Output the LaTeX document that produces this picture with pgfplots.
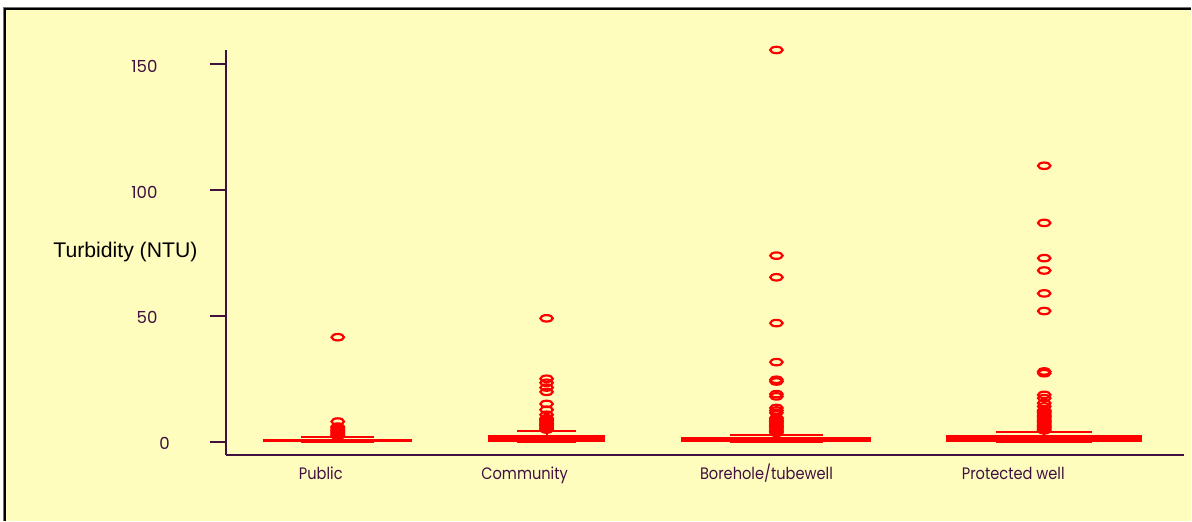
\documentclass[border=0pt]{standalone}
\usepackage{pgfplots}
\pgfplotsset{compat=1.18}
\usepgfplotslibrary{statistics}
\usepackage{graphicx}
\usepackage{fontspec}
\setmainfont{Liberation Sans}
\newfontfamily\geo{Poppins}
\definecolor{bgyellow}{RGB}{255,253,190}
\definecolor{axpurple}{RGB}{64,16,64}
\newcommand{\nx}[1]{\scalebox{0.88}[1]{#1}}

\begin{document}
\begin{tikzpicture}
% page: 1192 x 521 px, 1 px = 0.5 pt
\fill[white] (0,0) rectangle (596pt,260.5pt);
\fill[bgyellow] (2.5pt,0) rectangle (596pt,256pt);
\draw[black!55, line width=0.6pt] (1.7pt,0) -- (1.7pt,256.8pt) -- (596pt,256.8pt);
\draw[black, line width=0.9pt] (2.4pt,0) -- (2.4pt,256.1pt) -- (596pt,256.1pt);

\begin{axis}[
    at={(113pt,33pt)}, anchor=south west,
    scale only axis, width=479.5pt, height=202.5pt,
    xmin=226, xmax=1185, ymin=-5.16, ymax=155.6,
    clip=false,
    axis lines=left,
    axis line style={-, draw=axpurple, line width=1pt},
    xtick={321,525,767,1014},
    xticklabels={\nx{Public}, \nx{Community}, \nx{Borehole/tubewell}, \nx{Protected well}},
    xtick style={draw=none},
    ytick={0,50,100,150},
    yticklabels={0\kern-8pt,50,100,150},
    ytick style={draw=axpurple, line width=1pt},
    major tick length=8pt, tick align=outside,
    ticklabel style={font=\geo\fontsize{8.3}{10}\selectfont, text=axpurple},
    yticklabel style={anchor=east, inner sep=0pt, xshift=-26pt, yshift=-1pt},
    xticklabel style={anchor=base, inner sep=0pt, yshift=-4.5pt},
    ylabel={Turbidity (NTU)},
    ylabel style={at={(axis description cs:-0.1048,0.5012)}, rotate=-90,
                  anchor=center, font=\fontsize{10.6}{12}\selectfont, text=black},
    boxplot/draw direction=y,
    boxplot/every box/.style={draw=red, fill=red},
    boxplot/every median/.style={draw=red},
    bx/.style={red, line width=1pt, solid, mark=o, mark size=3.1pt,
               mark options={line width=1.1pt, yscale=0.52}},
  ]

  % Public
  \addplot[bx, boxplot prepared={draw position=338,
      lower whisker=0, lower quartile=0.1, median=0.5,
      upper quartile=0.8, upper whisker=1.7,
      box extend=147, whisker extend=73}]
    table[row sep=\\, y index=0] {41.5\\8\\6\\5.5\\5\\4.5\\4\\3.5\\3\\2.5\\2.2\\};

  % Community
  \addplot[bx, boxplot prepared={draw position=547,
      lower whisker=0, lower quartile=0.1, median=1.0,
      upper quartile=2.3, upper whisker=4.3,
      box extend=115, whisker extend=59}]
    table[row sep=\\, y index=0] {49\\25\\23.4\\21.5\\19.8\\15\\12.7\\10.7\\9.3\\8.8\\8.3\\7.8\\7.3\\6.8\\6.3\\5.8\\5.3\\4.8\\};

  % Borehole/tubewell
  \addplot[bx, boxplot prepared={draw position=777,
      lower whisker=0, lower quartile=0.1, median=0.4,
      upper quartile=1.3, upper whisker=2.8,
      box extend=188, whisker extend=93}]
    table[row sep=\\, y index=0] {155.6\\73.9\\65.3\\47.1\\31.6\\24.6\\23.9\\18.9\\18.0\\13.4\\12.4\\11.5\\9.5\\9\\8.5\\8\\7.5\\7\\6.5\\6\\5.5\\5\\4.5\\4\\3.5\\};

  % Protected well
  \addplot[bx, boxplot prepared={draw position=1045,
      lower whisker=0, lower quartile=0.1, median=1.0,
      upper quartile=2.1, upper whisker=4.0,
      box extend=194, whisker extend=96}]
    table[row sep=\\, y index=0] {109.6\\86.9\\72.9\\68\\58.9\\51.9\\27.9\\27.2\\18.6\\17.3\\15.3\\14\\12.5\\12\\11.5\\11\\10.5\\10\\9.5\\9\\8.5\\8\\7.5\\7\\6.5\\6\\5.5\\5\\4.5\\};

\end{axis}
\end{tikzpicture}
\end{document}
